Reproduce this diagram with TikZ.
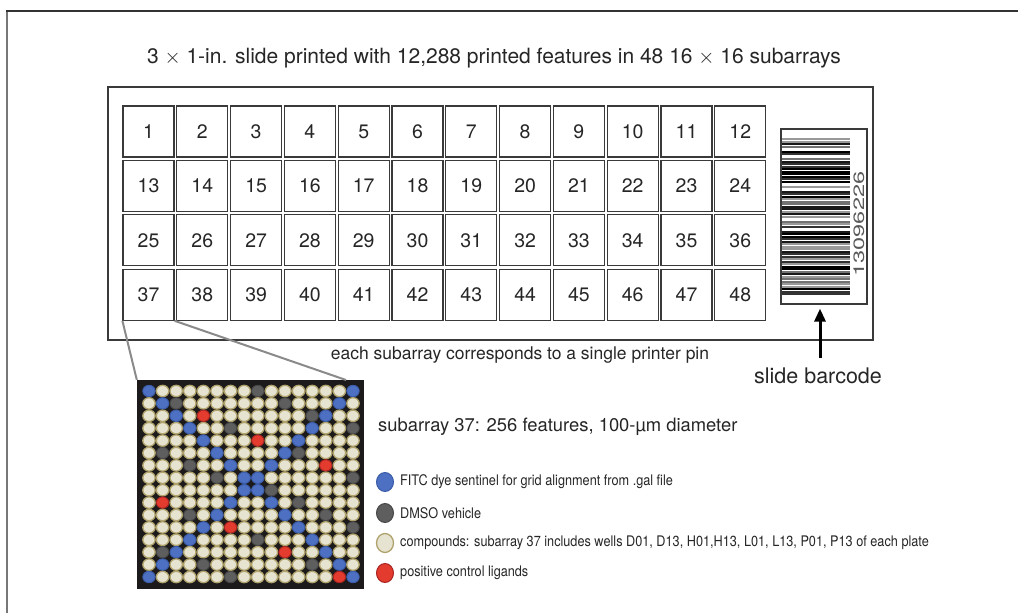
\documentclass[tikz,border=0pt]{standalone}
\usepackage{fontspec}
\setmainfont{TeX Gyre Heros}
\newfontfamily\narrowfont{TeX Gyre Heros}[FakeStretch=0.87]
\usetikzlibrary{arrows.meta}
\definecolor{framecol}{HTML}{777777}
\definecolor{frametop}{HTML}{333333}
\definecolor{cellcol}{HTML}{3A3A3A}
\definecolor{subbg}{HTML}{1C1A1A}
\definecolor{creamfill}{HTML}{E6E3D1}
\definecolor{creamrim}{HTML}{AFA26C}
\definecolor{bluefill}{HTML}{4D70C2}
\definecolor{bluerim}{HTML}{3B5CA8}
\definecolor{darkfill}{HTML}{5E5E5E}
\definecolor{darkrim}{HTML}{474747}
\definecolor{redfill}{HTML}{E43B2F}
\definecolor{redrim}{HTML}{A82420}
\definecolor{zoomcol}{HTML}{8A8A8A}
\tikzset{
  cellbox/.style={draw=cellcol, line width=1.2pt, minimum width=51pt, minimum height=51pt, inner sep=0pt, font=\fontsize{19.5}{22}\selectfont, text=black!85},
  dotB/.style={fill=bluefill, draw=bluerim, line width=1pt},
  dotC/.style={fill=creamfill, draw=creamrim, line width=1.3pt},
  dotD/.style={fill=darkfill, draw=darkrim, line width=1pt},
  dotR/.style={fill=redfill, draw=redrim, line width=1pt},
  legtext/.style={anchor=west, inner sep=0pt, font=\narrowfont\fontsize{14.6}{16}\selectfont, text=black!85},
  zoomline/.style={draw=zoomcol, line width=2pt},
}
\begin{document}
\begin{tikzpicture}[x=1pt,y=-1pt]
\useasboundingbox (0,0) rectangle (1018,613);
% outer frame (top and left edges)
\draw[framecol, line width=1.5pt] (7,613) -- (7,11);
\draw[frametop, line width=1.5pt] (6.25,11) -- (1018,11);
% title
\node[font=\fontsize{21}{24}\selectfont, text=black!85] (title) at (494,58) {3 $\times$ 1-in. slide printed with 12,288 printed features in 48 16 $\times$ 16 subarrays};
% slide
\node[draw=cellcol, line width=1.2pt, minimum width=765pt, minimum height=253pt, inner sep=0pt] (slide) at (490.5,213.5) {};
% cells
\foreach \j in {1,...,4} {
  \foreach \i in {1,...,12} {
    \pgfmathtruncatemacro{\n}{(\j-1)*12+\i}
    \pgfmathsetmacro{\cx}{123+53.8*(\i-1)+25.5}
    \pgfmathsetmacro{\cy}{106+54.4*(\j-1)+25.5}
    \node[cellbox] (c\n) at (\cx,\cy) {\n};
  }
}
% barcode
\node[draw=cellcol, line width=1.2pt, minimum width=86pt, minimum height=175pt, inner sep=0pt] (bc) at (824,216.5) {};
\pgfmathsetseed{11}
\foreach \k in {0,...,62} {
  \pgfmathrandominteger{\g}{0}{5}
  \pgfmathsetmacro{\yy}{138+\k*2.5}
  \ifcase\g \def\bcol{black}\or \def\bcol{black!80}\or \def\bcol{black!55}\or \def\bcol{black!40}\or \def\bcol{white}\or \def\bcol{black!90}\fi
  \fill[\bcol] (782,\yy) rectangle (850,\yy+2.1);
}
\node[rotate=90, text=black!65, inner sep=0pt] (bcnum) at (859,224) {\scalebox{1.57}[1]{\fontsize{15}{15}\selectfont 13096226}};
% arrow to barcode
\coordinate (arrowfoot) at (820,358);
\draw[line width=3pt, -{Triangle[length=13pt, width=11pt]}] (arrowfoot) -- ([yshift=-4pt]bc.south -| arrowfoot);
\node[font=\fontsize{21.5}{24}\selectfont, text=black!85] (bclabel) at (818,376) {slide barcode};
% pin note
\node[font=\fontsize{17.5}{20}\selectfont, text=black!85] (pinnote) at (520,355) {each subarray corresponds to a single printer pin};
% subarray 37 enlarged
\node[fill=subbg, minimum width=227pt, minimum height=209pt, inner sep=0pt] (sub) at (250.5,484.5) {};
\coordinate (subR) at (346,380);
\draw[zoomline] (c37.south west) -- (sub.north west);
\draw[zoomline] (c37.south east) -- (subR);
\foreach \row [count=\r] in {
 {B,C,C,C,C,C,C,C,D,C,C,C,C,C,C,B},
 {C,B,D,C,C,C,C,C,C,C,D,C,C,C,B,C},
 {C,C,B,C,R,C,C,C,C,C,C,C,D,B,C,C},
 {C,C,C,B,C,C,D,C,C,C,C,C,B,C,C,D},
 {C,C,C,C,B,C,C,C,R,C,C,B,C,C,C,C},
 {C,D,C,C,C,B,C,C,C,C,B,D,C,C,C,C},
 {C,C,C,D,C,C,B,C,C,B,C,C,C,R,C,C},
 {C,C,C,C,C,D,C,B,B,C,C,C,C,C,C,D},
 {C,C,C,C,C,C,C,B,B,D,C,C,C,C,C,C},
 {C,R,C,C,C,C,B,C,C,B,C,D,C,C,C,C},
 {C,C,C,D,C,B,C,C,C,C,B,C,C,D,C,C},
 {C,C,C,C,B,C,R,C,C,C,C,B,C,C,C,D},
 {C,C,C,B,C,C,C,C,D,C,C,C,B,C,C,C},
 {C,D,B,C,C,C,C,C,C,C,R,C,C,B,C,C},
 {C,B,C,C,D,C,C,C,C,C,C,C,D,C,B,C},
 {B,C,C,C,C,C,D,C,C,C,C,C,C,C,R,B}} {
  \foreach \t [count=\k] in \row {
    \pgfmathsetmacro{\dx}{149+13.6*(\k-1)}
    \pgfmathsetmacro{\dy}{391+12.4*(\r-1)}
    \path[dot\t] (\dx,\dy) ellipse [x radius=6.2pt, y radius=5.7pt];
  }
}
\node[anchor=west, inner sep=0pt, font=\fontsize{18.4}{21}\selectfont, text=black!85] (subtitle) at (378,427) {subarray 37: 256 features, 100-µm diameter};
% legend
\path[dotB] (385,482) ellipse [x radius=8.5pt, y radius=9.5pt];
\node[legtext] (legB) at (400,482) {FITC dye sentinel for grid alignment from .gal file};
\path[dotD] (385,513) ellipse [x radius=8.5pt, y radius=9.5pt];
\node[legtext] (legD) at (400,513) {DMSO vehicle};
\path[dotC] (385,543) ellipse [x radius=8.5pt, y radius=9.5pt];
\node[legtext] (legC) at (400,543) {compounds: subarray 37 includes wells D01, D13, H01,H13, L01, L13, P01, P13 of each plate};
\path[dotR] (385,573) ellipse [x radius=8.5pt, y radius=9.5pt];
\node[legtext] (legR) at (400,573) {positive control ligands};
\end{tikzpicture}
\end{document}
